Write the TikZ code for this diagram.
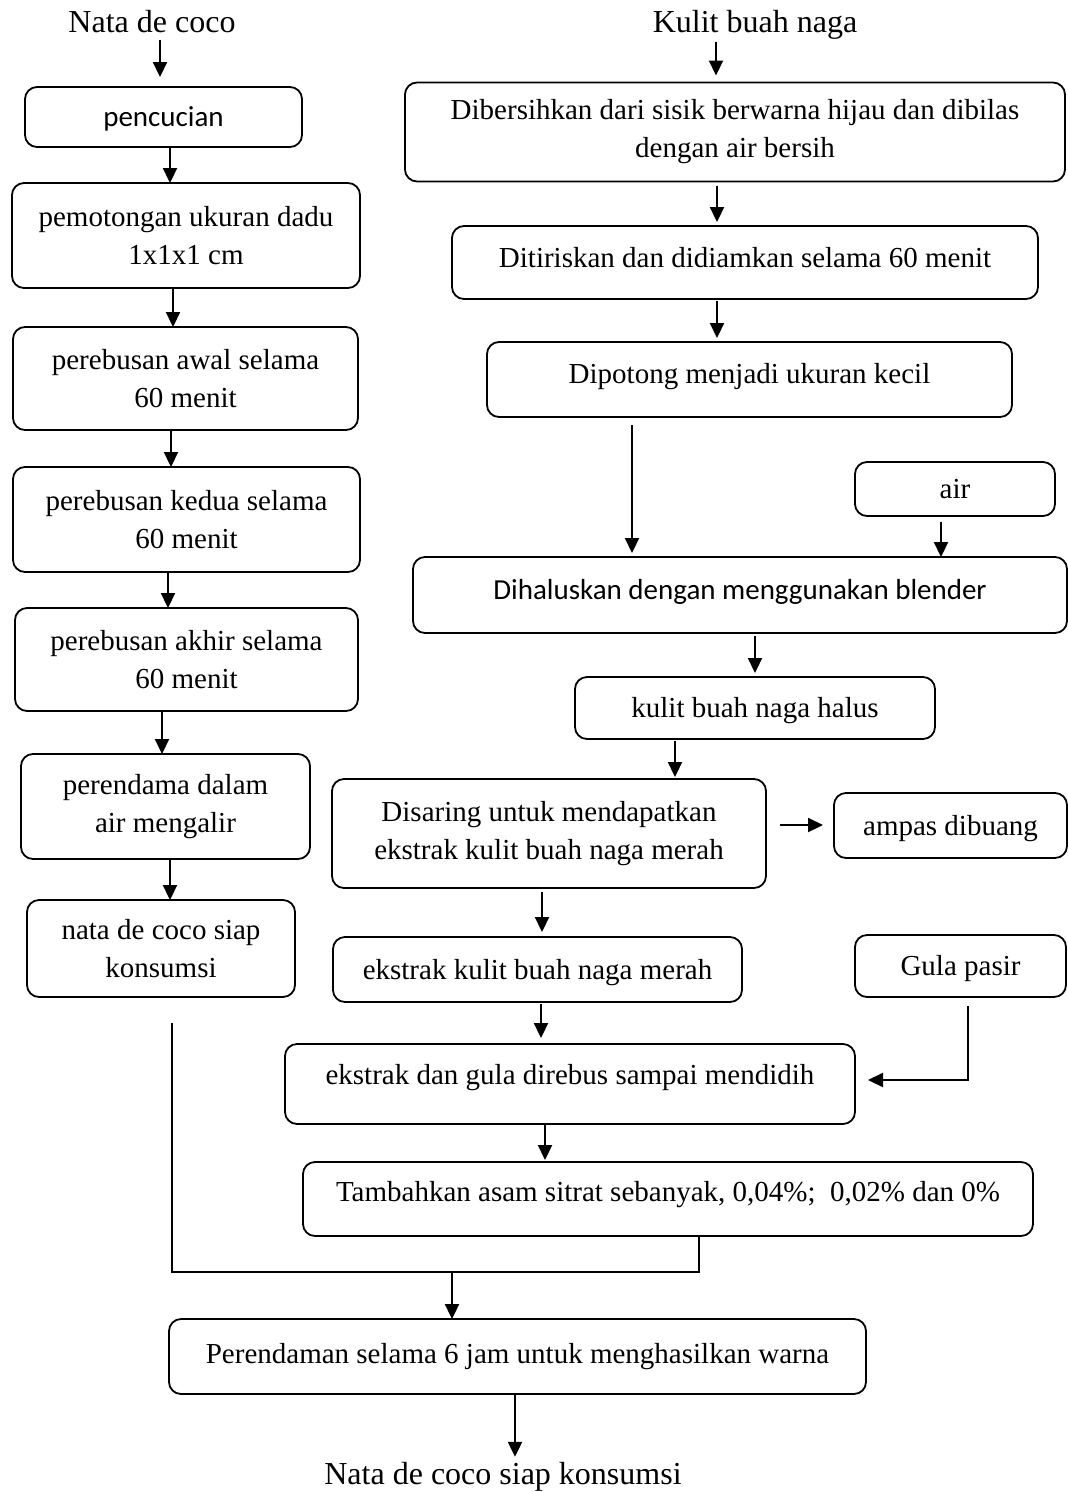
\documentclass[tikz,border=0pt]{standalone}
\usepackage{fontspec}
\setmainfont{Liberation Serif}
\newfontfamily\calfont{Carlito}
\usetikzlibrary{arrows.meta}
\tikzset{
  box/.style={draw, line width=1.8pt, rounded corners=12pt, inner sep=0pt, outer sep=0pt,
    align=center, font=\fontsize{29}{38}\selectfont},
  bx/.style 2 args={minimum width=#1pt, minimum height=#2pt},
  one/.style={text height=26pt, text depth=6.5pt},
  raiseby/.style={text height=26pt, text depth=#1},
  ttl/.style={inner sep=0pt, outer sep=0pt, font=\fontsize{32}{38}\selectfont},
  arr/.style={-{Triangle[length=15pt,width=14pt]}, line width=2.2pt},
  ln/.style={line width=1.6pt}
}
\begin{document}
\begin{tikzpicture}[x=1pt,y=-1pt]
\useasboundingbox (0,0) rectangle (1068,1492);
% titles
\node[ttl, anchor=base] (t1) at (152,32) {Nata de coco};
\node[ttl, anchor=base] (t2) at (755,32) {Kulit buah naga};
\node[ttl, anchor=base] (t3) at (503,1484) {Nata de coco siap konsumsi};
% left column
\node[box, bx={277}{60}, one, font=\calfont\fontsize{29}{38}\selectfont] (A1) at (163.5,117) {pencucian};
\node[box, bx={348}{105}] (A2) at (186,235.5) {pemotongan ukuran dadu\\1x1x1 cm};
\node[box, bx={345}{103}] (A3) at (185.5,378.5) {perebusan awal selama\\60 menit};
\node[box, bx={347}{105}] (A4) at (186.5,519.5) {perebusan kedua selama\\60 menit};
\node[box, bx={343}{103}] (A5) at (186.5,659.5) {perebusan akhir selama\\60 menit};
\node[box, bx={289}{105}] (A6) at (165.5,806.5) {perendama dalam\\air mengalir};
\node[box, bx={268}{97}] (A7) at (161,948.5) {nata de coco siap\\konsumsi};
% right column
\node[box, bx={660}{99}] (B1) at (735,132) {Dibersihkan dari sisik berwarna hijau dan dibilas\\dengan air bersih};
\node[box, bx={586}{73}, raiseby=16.5pt] (B2) at (745,262.5) {Ditiriskan dan didiamkan selama 60 menit};
\node[box, bx={525}{75}, raiseby=18.5pt] (B3) at (749.5,379.5) {Dipotong menjadi ukuran kecil};
\node[box, bx={200}{54}, one] (B4) at (955,489) {air};
\node[box, bx={654}{76}, raiseby=16.5pt, font=\calfont\fontsize{29}{38}\selectfont] (B5) at (740,595) {Dihaluskan dengan menggunakan blender};
\node[box, bx={360}{62}, one] (B6) at (755,708) {kulit buah naga halus};
\node[box, bx={434}{109}] (B7) at (549,833.5) {Disaring untuk mendapatkan\\ekstrak kulit buah naga merah};
\node[box, bx={233}{65}, one] (B8) at (950.5,825.5) {ampas dibuang};
\node[box, bx={409}{65}, one] (B9) at (537.5,969.5) {ekstrak kulit buah naga merah};
\node[box, bx={211}{62}, one] (B10) at (960.5,966) {Gula pasir};
\node[box, bx={570}{80}, raiseby=24.5pt] (B11) at (570,1084) {ekstrak dan gula direbus sampai mendidih};
\node[box, bx={730}{74}, raiseby=20.5pt] (B12) at (668,1199) {Tambahkan asam sitrat sebanyak, 0,04\%;\ \ 0,02\% dan 0\%};
\node[box, bx={697}{75}, raiseby=12.5pt] (C1) at (517.5,1356.5) {Perendaman selama 6 jam untuk menghasilkan warna};
% merge coordinates
\coordinate (mj) at (452,1272);
\coordinate (le) at (172,1023);
% left arrows
\draw[arr, shorten <=8pt, shorten >=10pt] (t1.south -| 160,0) -- (A1.north -| 160,0);
\draw[arr] (A1.south -| 170,0) -- (A2.north -| 170,0);
\draw[arr] (A2.south -| 173,0) -- (A3.north -| 173,0);
\draw[arr] (A3.south -| 171,0) -- (A4.north -| 171,0);
\draw[arr] (A4.south -| 168,0) -- (A5.north -| 168,0);
\draw[arr] (A5.south -| 162,0) -- (A6.north -| 162,0);
\draw[arr] (A6.south -| 170,0) -- (A7.north -| 170,0);
% right arrows
\draw[arr, shorten <=3pt, shorten >=7pt] (t2.south -| 716,0) -- (B1.north -| 716,0);
\draw[arr, shorten <=4pt, shorten >=4pt] (B1.south -| 717,0) -- (B2.north -| 717,0);
\draw[arr, shorten <=2pt, shorten >=4pt] (B2.south -| 717,0) -- (B3.north -| 717,0);
\draw[arr, shorten <=8pt, shorten >=4pt] (B3.south -| 632,0) -- (B5.north -| 632,0);
\draw[arr, shorten <=6pt] (B4.south -| 941,0) -- (B5.north -| 941,0);
\draw[arr, shorten <=3pt, shorten >=4pt] (B5.south -| 755,0) -- (B6.north -| 755,0);
\draw[arr, shorten <=2pt, shorten >=2pt] (B6.south -| 675,0) -- (B7.north -| 675,0);
\draw[arr, shorten <=14pt, shorten >=11pt] (B7.east |- 0,825) -- (B8.west |- 0,825);
\draw[arr, shorten <=4pt, shorten >=5pt] (B7.south -| 542,0) -- (B9.north -| 542,0);
\draw[arr, shorten <=2pt, shorten >=6pt] (B9.south -| 541,0) -- (B11.north -| 541,0);
\draw[arr, shorten <=9pt, shorten >=13pt] (B10.south -| 968,0) |- (B11.east |- 0,1080);
\draw[arr, shorten >=2pt] (B11.south -| 545,0) -- (B12.north -| 545,0);
\draw[ln] (B12.south -| 699,0) |- (mj) -| (le);
\draw[arr] (mj) -- (C1.north -| mj);
\draw[arr, shorten >=5pt] (C1.south -| 515,0) -- (t3.north -| 515,0);
\end{tikzpicture}
\end{document}
